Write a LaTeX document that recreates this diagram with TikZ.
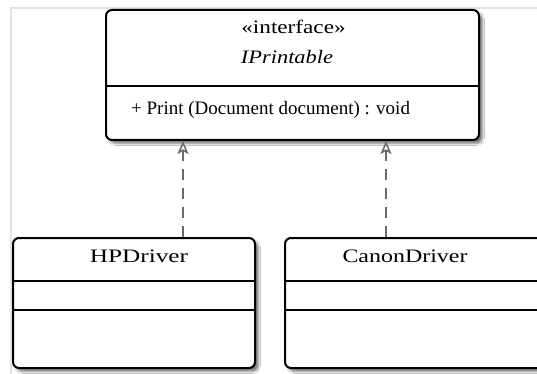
\documentclass[tikz,border=0pt]{standalone}
\usepackage{fontspec}
\setmainfont{Liberation Serif}
\usetikzlibrary{arrows.meta,shadows.blur}
\definecolor{framegray}{HTML}{E2E2E2}
\definecolor{linkgray}{HTML}{6A6A6A}
\definecolor{textdark}{HTML}{000000}
\newcommand\wideText[2]{\scalebox{#1}[1]{#2}}
\tikzset{
  umlbox/.style={draw=black, line width=2pt, rounded corners=6pt, fill=white, inner sep=0pt,
    blur shadow={shadow xshift=3.5pt, shadow yshift=-3.5pt, shadow blur steps=6, shadow opacity=50}},
  sepline/.style={line width=1.5pt, draw=black},
  nametext/.style={font=\fontsize{19}{21}\selectfont, anchor=base, inner sep=0pt, text=textdark},
  membertext/.style={font=\fontsize{19}{21}\selectfont, anchor=base west, inner sep=0pt, text=textdark},
  realize/.style={draw=linkgray, line width=1.4pt, dash pattern=on 11pt off 8pt,
    -{Stealth[open, length=13pt, width=11pt, inset=3pt, line width=1.5pt]}},
  frameline/.style={draw=framegray, line width=2pt}
}
\begin{document}
\begin{tikzpicture}[x=1pt,y=-1pt]
\useasboundingbox (0,0) rectangle (537,374);
\clip (0,0) rectangle (537,374);
\fill[white] (0,0) rectangle (537,374);
\draw[frameline] (11,374) -- (11,7.7) -- (537,7.7);

% interface
\node[umlbox, minimum width=373pt, minimum height=130pt] (iface) at (292.5,75) {};
\draw[sepline] (iface.west |- 0,86) -- (iface.east |- 0,86);
\node[nametext] (stereo) at (293.5,34) {\wideText{1.22}{«interface»}};
\node[nametext] (iname) at (287,64) {\wideText{1.18}{\itshape IPrintable}};
\node[membertext] (imeth) at (131,115) {+ Print (Document document) : void};

% HPDriver
\node[umlbox, minimum width=242pt, minimum height=130pt] (hp) at (134,303) {};
\draw[sepline] (hp.west |- 0,281) -- (hp.east |- 0,281);
\draw[sepline] (hp.west |- 0,310) -- (hp.east |- 0,310);
\node[nametext] (hpname) at (139,262.5) {\wideText{1.33}{HPDriver}};

% CanonDriver
\node[umlbox, minimum width=280pt, minimum height=130pt] (canon) at (425,303) {};
\draw[sepline] (canon.west |- 0,281) -- (canon.east |- 0,281);
\draw[sepline] (canon.west |- 0,310) -- (canon.east |- 0,310);
\node[nametext] (canonname) at (405,262.5) {\wideText{1.26}{CanonDriver}};

% realizations
\coordinate (c1) at (183,0);
\coordinate (c2) at (386,0);
\draw[realize] (hp.north -| c1) -- (iface.south -| c1);
\draw[realize] (canon.north -| c2) -- (iface.south -| c2);
\end{tikzpicture}
\end{document}
